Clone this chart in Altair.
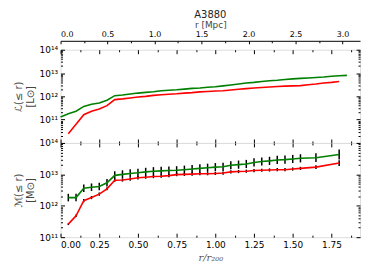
import altair as alt
import pandas as pd

# ---------------- data ----------------
# top panel: cumulative luminosity L(<=r) [Lsun] vs r/r200
top_green_x = [0.00, 0.05, 0.10, 0.15, 0.20, 0.25, 0.30, 0.35, 0.40, 0.45, 0.50, 0.55, 0.60,
               0.65, 0.70, 0.75, 0.80, 0.85, 0.90, 0.95, 1.00, 1.05, 1.10, 1.15, 1.20, 1.25,
               1.30, 1.35, 1.40, 1.45, 1.50, 1.55, 1.60, 1.65, 1.70, 1.75, 1.80, 1.85]
top_green_y = [1.3e11, 1.8e11, 2.3e11, 3.7e11, 4.6e11, 5.2e11, 6.8e11, 1.07e12, 1.15e12,
               1.26e12, 1.38e12, 1.48e12, 1.58e12, 1.74e12, 1.82e12, 1.91e12, 2.04e12,
               2.19e12, 2.29e12, 2.45e12, 2.57e12, 2.82e12, 3.09e12, 3.39e12, 3.72e12,
               3.98e12, 4.37e12, 4.68e12, 4.90e12, 5.25e12, 5.62e12, 5.89e12, 6.17e12,
               6.46e12, 6.76e12, 7.24e12, 7.59e12, 7.94e12]
top_red_x = [0.05, 0.10, 0.15, 0.20, 0.25, 0.30, 0.35, 0.40, 0.45, 0.50, 0.55, 0.60, 0.65,
             0.70, 0.75, 0.80, 0.85, 0.90, 0.95, 1.00, 1.05, 1.10, 1.15, 1.20, 1.25, 1.30,
             1.35, 1.40, 1.45, 1.50, 1.55, 1.60, 1.65, 1.70, 1.75, 1.80]
top_red_y = [2.5e10, 6.3e10, 1.62e11, 2.29e11, 2.88e11, 3.98e11, 7.24e11, 7.76e11, 8.51e11,
             9.33e11, 1.0e12, 1.10e12, 1.17e12, 1.23e12, 1.29e12, 1.38e12, 1.45e12, 1.55e12,
             1.62e12, 1.70e12, 1.74e12, 1.86e12, 2.0e12, 2.14e12, 2.29e12, 2.40e12, 2.51e12,
             2.63e12, 2.75e12, 2.82e12, 2.88e12, 3.16e12, 3.39e12, 3.72e12, 3.98e12, 4.37e12]

# bottom panel: cumulative mass M(<=r) [Msun] vs r/r200
bot_x = [0.05, 0.10, 0.15, 0.20, 0.25, 0.30, 0.35, 0.40, 0.45, 0.50, 0.55, 0.60, 0.65, 0.70,
         0.75, 0.80, 0.85, 0.90, 0.95, 1.00, 1.05, 1.10, 1.15, 1.20, 1.25, 1.30, 1.35, 1.40,
         1.45, 1.50, 1.55, 1.65, 1.80]
bot_green = [1.82e12, 1.82e12, 3.6e12, 3.9e12, 4.1e12, 5.4e12, 9.3e12, 1.0e13, 1.07e13,
             1.12e13, 1.2e13, 1.26e13, 1.29e13, 1.32e13, 1.35e13, 1.41e13, 1.48e13, 1.55e13,
             1.62e13, 1.70e13, 1.74e13, 1.95e13, 2.04e13, 2.14e13, 2.40e13, 2.57e13, 2.69e13,
             2.88e13, 2.95e13, 3.09e13, 3.24e13, 3.39e13, 4.27e13]
bot_red = [2.6e11, 4.8e11, 1.45e12, 1.82e12, 2.34e12, 3.47e12, 6.46e12, 6.6e12, 7.08e12,
           7.76e12, 8.13e12, 8.5e12, 8.7e12, 9.1e12, 9.8e12, 1.0e13, 1.02e13, 1.05e13,
           1.05e13, 1.07e13, 1.10e13, 1.20e13, 1.23e13, 1.26e13, 1.32e13, 1.35e13, 1.38e13,
           1.41e13, 1.41e13, 1.48e13, 1.55e13, 1.70e13, 2.29e13]
# error half-widths in dex
bot_green_err = [0.12, 0.12, 0.12, 0.12, 0.12, 0.12, 0.13, 0.13, 0.13, 0.13, 0.13, 0.13,
                 0.13, 0.13, 0.13, 0.13, 0.13, 0.13, 0.13, 0.13, 0.13, 0.13, 0.13, 0.13,
                 0.13, 0.13, 0.13, 0.13, 0.13, 0.13, 0.13, 0.14, 0.16]
bot_red_err = [0.03, 0.04, 0.05, 0.05, 0.05, 0.05, 0.05, 0.05, 0.05, 0.05, 0.05, 0.05,
               0.05, 0.05, 0.05, 0.05, 0.05, 0.05, 0.05, 0.05, 0.05, 0.05, 0.05, 0.05,
               0.05, 0.05, 0.05, 0.05, 0.05, 0.05, 0.05, 0.06, 0.09]

X_MAX = 1.935
R200_MPC = 1.647
MPC_MAX = X_MAX * R200_MPC
top_mpc_ticks = [0.0, 0.5, 1.0, 1.5, 2.0, 2.5, 3.0]
top_mpc_minor = [0.25, 0.75, 1.25, 1.75, 2.25, 2.75]
x_ticks = [0.0, 0.25, 0.5, 0.75, 1.0, 1.25, 1.5, 1.75]
x_minor = [0.125, 0.375, 0.625, 0.875, 1.125, 1.375, 1.625, 1.875]
top_y_major = [1e10, 1e11, 1e12, 1e13, 1e14]
bot_y_major = [1e11, 1e12, 1e13, 1e14]
y_label_ticks = [1e11, 1e12, 1e13, 1e14]
mantissas = [2, 3, 4, 5, 6, 7, 8, 9]
top_y_minor = [m * 10.0 ** e for e in (10, 11, 12, 13) for m in mantissas]
bot_y_minor = [m * 10.0 ** e for e in (11, 12, 13) for m in mantissas]

GREEN = "#008000"
RED = "#ff0000"
W = 302
MAJ, MIN = 4, 2

# ---------------- frames ----------------
top_df = pd.concat([
    pd.DataFrame({"x": top_green_x, "y": top_green_y, "s": "g"}),
    pd.DataFrame({"x": top_red_x, "y": top_red_y, "s": "r"}),
])
bot_rows = []
for s, ys, es in (("g", bot_green, bot_green_err), ("r", bot_red, bot_red_err)):
    for x, y, e in zip(bot_x, ys, es):
        bot_rows.append({"x": x, "y": y, "lo": y / 10 ** e, "hi": y * 10 ** e, "s": s})
bot_df = pd.DataFrame(bot_rows)

sup_expr = ("['','','','','','','','','','','10\u00b9\u2070','10\u00b9\u00b9',"
            "'10\u00b9\u00b2','10\u00b9\u00b3','10\u00b9\u2074'][round(log(datum.value)/LN10)]")

color = alt.Color("s:N", scale=alt.Scale(domain=["g", "r"], range=[GREEN, RED]), legend=None)


def xscale():
    return alt.Scale(domain=[0, X_MAX], nice=False, zero=False)


def yscale(lo):
    return alt.Scale(type="log", domain=[lo, 1e14], nice=False)


def tick_layer(channel, scale, other_scale, orient, values, size, offset=None):
    """Invisible layer that only carries an axis of inward tick marks."""
    df = pd.DataFrame({"v": values, "d": [1e12] * len(values) if channel == "x"
                       else [0.5] * len(values)})
    ax = alt.Axis(orient=orient, values=values, labels=False, title=None, domain=False,
                  grid=False, tickSize=size, offset=(-size if offset is None else offset),
                  tickColor="black", tickWidth=1)
    if channel == "x":
        enc = dict(x=alt.X("v:Q", scale=scale, axis=ax),
                   y=alt.Y("d:Q", scale=other_scale, axis=None))
    else:
        enc = dict(y=alt.Y("v:Q", scale=scale, axis=ax),
                   x=alt.X("d:Q", scale=other_scale, axis=None))
    return alt.Chart(df).mark_point(opacity=0).encode(**enc)


def frame_ticks(ylo, ymaj, ymin):
    return [
        tick_layer("y", yscale(ylo), xscale(), "left", ymin, MIN),
        tick_layer("y", yscale(ylo), xscale(), "right", ymaj, MAJ),
        tick_layer("y", yscale(ylo), xscale(), "right", ymin, MIN),
        tick_layer("x", xscale(), yscale(ylo), "bottom", x_minor, MIN),
        tick_layer("x", xscale(), yscale(ylo), "top", x_ticks, MAJ),
        tick_layer("x", xscale(), yscale(ylo), "top", x_minor, MIN),
    ]


def yaxis(title):
    return alt.Axis(values=y_label_ticks, labelExpr=sup_expr, title=title, offset=-MAJ,
                    tickSize=MAJ, tickColor="black", domain=False, grid=False,
                    labelFontSize=9, labelPadding=3, titleFontSize=10,
                    titleFontWeight="normal", titleColor="#444444", titlePadding=4,
                    labelColor="black", labelFont="DejaVu Sans", titleFont="DejaVu Sans")


# ---------------- top panel ----------------
top_lines = alt.Chart(top_df).mark_line(strokeWidth=1.6).encode(
    x=alt.X("x:Q", scale=xscale(),
            axis=alt.Axis(values=x_ticks, labels=False, title=None, offset=-MAJ, tickSize=MAJ,
                          tickColor="black", domain=False, grid=False)),
    y=alt.Y("y:Q", scale=yscale(1e10), axis=yaxis(["\u2112(\u2264 r)", "[L\u2299]"])),
    color=color,
    detail="s:N",
)
mpc_scale = alt.Scale(domain=[0, MPC_MAX], nice=False, zero=False)
mpc_labels = alt.Chart(pd.DataFrame({"mpc": top_mpc_ticks, "d": [1e12] * len(top_mpc_ticks)})
                       ).mark_point(opacity=0).encode(
    x=alt.X("mpc:Q", scale=mpc_scale,
            axis=alt.Axis(orient="top", values=top_mpc_ticks, format=".1f", offset=9,
                          ticks=False, domainColor="black", domainWidth=1, grid=False,
                          title="r [Mpc]", titleFontSize=9, titleFontWeight="normal",
                          titleColor="#444444", labelFontSize=8, labelColor="black",
                          labelPadding=2, titlePadding=1, labelFont="DejaVu Sans",
                          titleFont="DejaVu Sans")),
    y=alt.Y("d:Q", scale=yscale(1e10), axis=None),
)
mpc_major = tick_layer("x", mpc_scale, yscale(1e10), "top", top_mpc_ticks, 3, offset=6)
mpc_minor = tick_layer("x", mpc_scale, yscale(1e10), "top", top_mpc_minor, 2, offset=7)

top = alt.layer(top_lines, mpc_labels, mpc_major, mpc_minor,
                *frame_ticks(1e10, top_y_major, top_y_minor)).resolve_scale(
    x="independent", y="independent").properties(
    width=W, height=94,
    title=alt.TitleParams("A3880", fontSize=10, fontWeight="normal", color="#222222",
                          font="DejaVu Sans", offset=1),
)

# ---------------- bottom panel ----------------
bars = alt.Chart(bot_df).mark_rule(color="black", strokeWidth=1.5).encode(
    x=alt.X("x:Q", scale=xscale(), axis=None),
    y=alt.Y("lo:Q", scale=yscale(1e11), axis=None), y2="hi:Q",
)
bot_lines = alt.Chart(bot_df).mark_line(strokeWidth=1.6).encode(
    x=alt.X("x:Q", scale=xscale(),
            axis=alt.Axis(values=x_ticks, format=".2f", title="r/r\u2082\u2080\u2080",
                          offset=-MAJ, tickSize=MAJ, tickColor="black", domain=False,
                          grid=False, labelFontSize=9, labelColor="black", labelPadding=3,
                          titleFontSize=10, titleFont="DejaVu Serif", titleFontStyle="italic",
                          titleFontWeight="normal", titleColor="#555555", titlePadding=4,
                          labelFont="DejaVu Sans")),
    y=alt.Y("y:Q", scale=yscale(1e11), axis=yaxis(["\u2133(\u2264 r)", "[M\u2299]"])),
    color=color,
    detail="s:N",
)
bottom = alt.layer(bars, bot_lines, *frame_ticks(1e11, bot_y_major, bot_y_minor)).resolve_scale(
    x="independent", y="independent").properties(width=W, height=95)

chart = alt.vconcat(top, bottom, spacing=0, bounds="flush").configure_view(
    stroke="black", strokeWidth=1.2
).configure(padding={"left": 4, "top": 0, "right": 5, "bottom": 2})

chart.save("out.html", embed_options={"renderer": "svg", "actions": False})
